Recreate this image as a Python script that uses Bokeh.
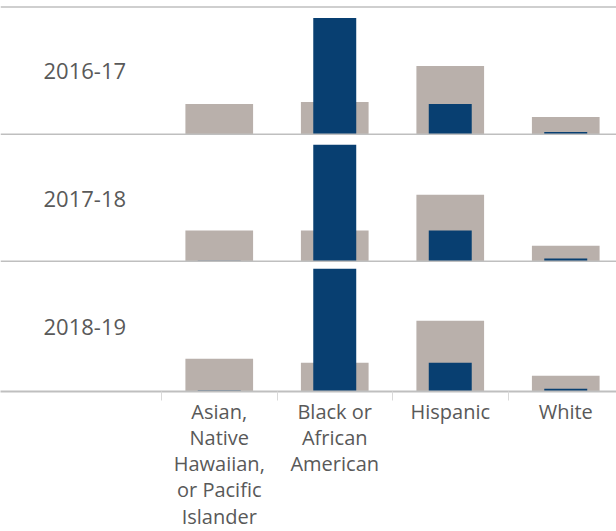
from bokeh.plotting import figure
from bokeh.layouts import column
from bokeh.models import Range1d, Span, Label, FixedTicker
from bokeh.embed import file_html
from bokeh.resources import INLINE

# ---- data ----
categories = ["Asian,\nNative\nHawaiian,\nor Pacific\nIslander",
              "Black or\nAfrican\nAmerican", "Hispanic", "White"]
years = ["2016-17", "2017-18", "2018-19"]
gray_2016 = [20.5, 21.8, 46.0, 11.7]
blue_2016 = [0.0, 78.2, 20.5, 1.7]
gray_2017 = [20.8, 20.8, 44.8, 10.5]
blue_2017 = [0.5, 78.3, 20.8, 2.0]
gray_2018 = [21.9, 19.3, 47.4, 10.5]
blue_2018 = [0.7, 82.3, 19.3, 1.8]
grays = [gray_2016, gray_2017, gray_2018]
blues = [blue_2016, blue_2017, blue_2018]

# ---- styling ----
GRAY = "#B9B0AB"
BLUE = "#083F71"
LINE = "#BFBFBF"
TEXT = "#595959"
FONT = "Open Sans"
PPU = 1.49            # pixels per unit
BAND = 115.5          # pixels per category band
LEFT_PX = 161         # pixels of label area left of first band
FRAME_W = 616
x_start = -LEFT_PX / BAND
x_end = x_start + FRAME_W / BAND
xs = [i + 0.5 for i in range(len(categories))]

frame_heights = [135, 127, 129]
figs = []
for k, (yr, g, b) in enumerate(zip(years, grays, blues)):
    last = (k == len(years) - 1)
    fh = frame_heights[k]
    y0 = 0.0 if last else -1.0 / PPU
    y1 = y0 + fh / PPU
    p = figure(frame_width=FRAME_W, frame_height=fh,
               x_range=Range1d(x_start, x_end), y_range=Range1d(y0, y1),
               toolbar_location=None, output_backend="svg",
               x_axis_location="below" if last else None,
               y_axis_location=None,
               min_border=0, min_border_left=0, min_border_right=0,
               min_border_top=0, min_border_bottom=0)
    p.outline_line_color = None
    p.xgrid.visible = False
    p.ygrid.visible = False
    p.background_fill_color = "white"
    p.border_fill_color = "white"

    p.vbar(x=xs, top=g, bottom=0, width=0.586, color=GRAY, line_color=None)
    p.vbar(x=xs, top=b, bottom=0, width=0.372, color=BLUE, line_color=None)

    top_y = y1
    if k == 0:
        top_y = y1 - 6.5 / PPU
        p.add_layout(Span(location=top_y, dimension="width",
                          line_color=LINE, line_width=1.5))
    if not last:
        p.add_layout(Span(location=0, dimension="width",
                          line_color=LINE, line_width=2))
    else:
        ax = p.xaxis[0]
        ax.ticker = FixedTicker(ticks=xs, minor_ticks=[float(i) for i in range(len(categories))])
        ax.major_label_overrides = {x: c for x, c in zip(xs, categories)}
        ax.axis_line_color = LINE
        ax.axis_line_width = 2
        ax.major_tick_line_color = None
        ax.major_tick_out = 0
        ax.major_tick_in = 0
        ax.minor_tick_line_color = "#D9D9D9"
        ax.minor_tick_out = 9
        ax.minor_tick_in = 0
        ax.minor_tick_line_width = 1
        ax.major_label_text_font = FONT
        ax.major_label_text_font_size = "20px"
        ax.major_label_text_color = TEXT
        ax.major_label_text_line_height = 0.975
        ax.major_label_standoff = -3
        ax.major_label_orientation = "horizontal"

    p.add_layout(Label(x=43, x_units="screen", y=top_y / 2, y_units="data",
                       text=yr, text_font=FONT, text_font_size="22px",
                       text_color=TEXT, text_align="left",
                       text_baseline="middle"))
    figs.append(p)

layout = column(*figs, spacing=0)
open("out.html", "w").write(file_html(layout, INLINE))
